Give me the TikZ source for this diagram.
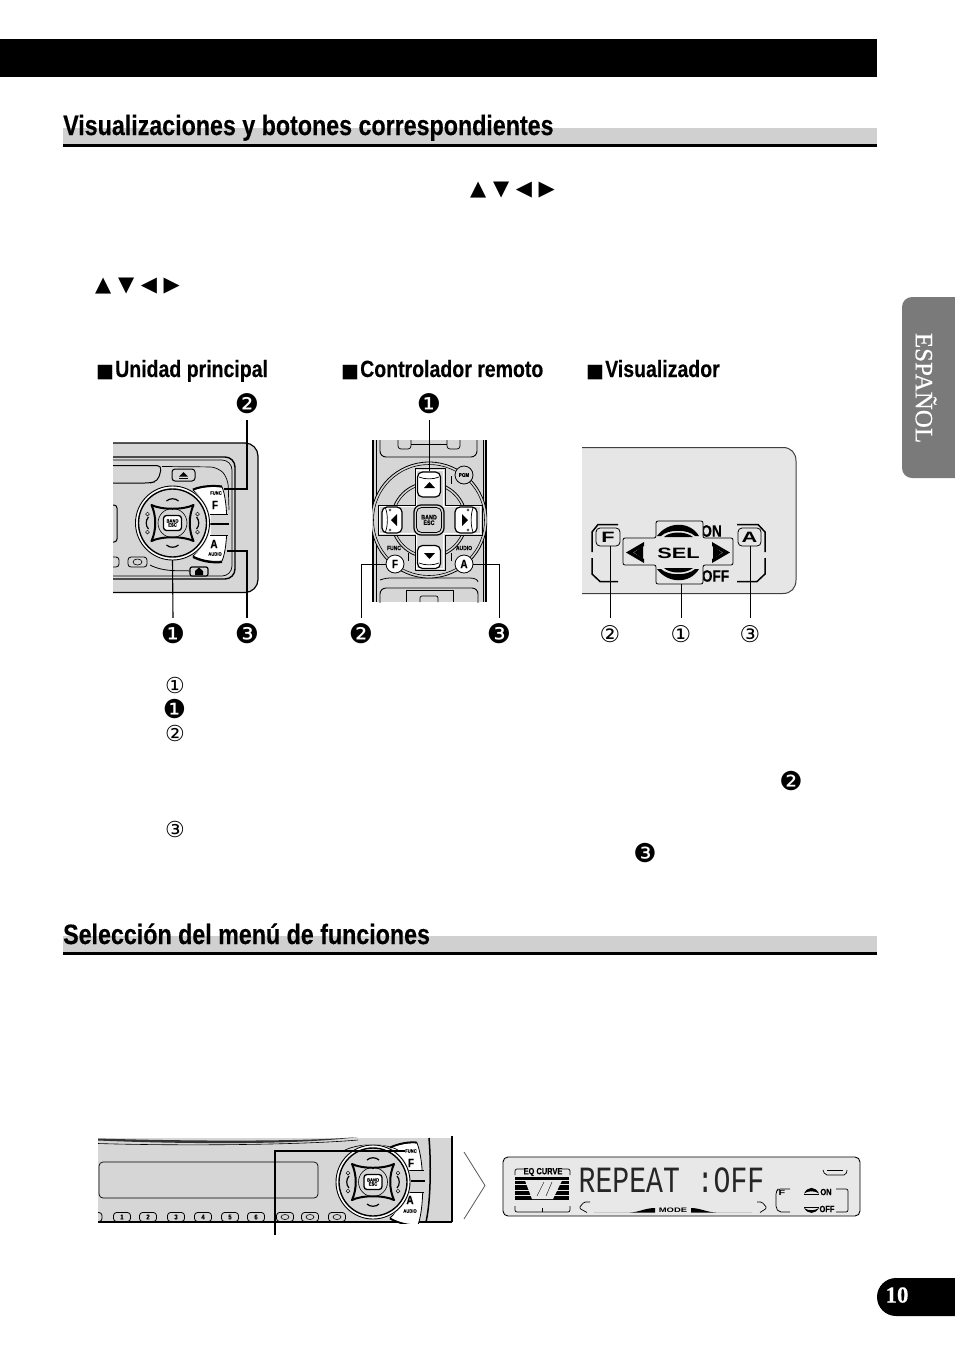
\documentclass[tikz,border=0pt]{standalone}
\usepackage{fontspec}
\setmainfont{Liberation Sans}
\newfontfamily\hfont[FakeStretch=0.83,BoldFeatures={FakeBold=0.3}]{Liberation Sans}
\newfontfamily\djv{DejaVu Sans}
\newfontfamily\serf[FakeBold=0.4]{Liberation Serif}
\newfontfamily\lcdf[FakeStretch=0.76]{Liberation Mono}
\newfontfamily\wide[FakeStretch=1.45]{Liberation Sans}
\definecolor{devgray}{HTML}{D6D6D6}
\definecolor{dispgray}{HTML}{E6E6E6}
\definecolor{lcdgray}{HTML}{E8E8E8}
\definecolor{bargray}{HTML}{D0D0D0}
\definecolor{tabgray}{HTML}{7A7A7A}
\newcommand{\fsz}[1]{\fontsize{#1}{#1}\selectfont}
\newcommand{\sqbox}{\makebox[19pt][l]{\djv\fsz{19}■}}
\tikzset{
  headtxt/.style={anchor=base west,inner sep=0pt,font=\hfont\bfseries\fsz{28}},
  subtxt/.style={anchor=base west,inner sep=0pt,font=\hfont\bfseries\fsz{23.5}},
  mark1/.style={inner sep=0pt,minimum size=32pt,font=\djv\fsz{23}},
  markf/.style={inner sep=0pt,minimum size=32pt,font=\djv\fsz{27}},
  markk/.style={inner sep=0pt,font=\djv\fsz{22}},
  markkf/.style={inner sep=0pt,font=\djv\fsz{26}},
  arrowtxt/.style={anchor=west,inner sep=0pt,font=\djv\fsz{21}},
  lead/.style={draw=black,line width=1.1pt},
  tiny/.style={inner sep=0pt,font=\hfont\bfseries\fsz{5}},
  pad/.style={draw=black,line width=.8pt,fill=devgray,rounded corners=3pt},
  rkey/.style={draw=black,line width=1.2pt,fill=white,rounded corners=5pt,inner sep=0pt},
  dial/.pic={
    \fill[devgray] (0,0) circle (38pt);
    \draw[black,line width=.9pt,fill=white] (0,0) circle (37pt);
    \draw[black,line width=1.4pt,fill=devgray] (0,0) circle (34pt);
    \draw[black,line width=2pt,line join=round,fill=devgray]
      (-21,-18) .. controls (-11,-13) and (11,-13) .. (21,-18)
      .. controls (16,-7) and (16,7) .. (21,18)
      .. controls (11,13) and (-11,13) .. (-21,18)
      .. controls (-16,7) and (-16,-7) .. (-21,-18) -- cycle;
    \draw[black,line width=.6pt] (0,0) circle (14.5pt);
    \draw[black,line width=1.2pt] (-6,-22) .. controls (-3,-25) and (3,-25) .. (6,-22);
    \draw[black,line width=1.2pt] (-6,22) .. controls (-3,25) and (3,25) .. (6,22);
    \draw[black,line width=1.2pt] (-24,-6) .. controls (-27,-3) and (-27,3) .. (-24,6);
    \draw[black,line width=1.2pt] (24,-6) .. controls (27,-3) and (27,3) .. (24,6);
    \foreach \cx in {-25,25}{\foreach \cy in {-9,9}{\draw[black,line width=.5pt] (\cx,\cy) circle (1.9pt);}}
    \node[draw=black,line width=1.3pt,fill=white,rounded corners=3pt,minimum width=18pt,minimum height=15pt,inner sep=0pt,
       align=center,font=\hfont\bfseries\fsz{5}] (band) at (0,0) {BAND\\[-1pt]ESC};
  }
}
\begin{document}
\begin{tikzpicture}[x=1pt,y=-1pt]
\useasboundingbox (0,0) rectangle (954,1355);
\fill[white] (0,0) rectangle (954,1355);

% top band
\fill[black] (0,39) rectangle (877,77);

% section headings
\fill[bargray] (63,128) rectangle (877,144);
\fill[black] (63,144) rectangle (877,146.5);
\node[headtxt] (h1) at (63,135) {Visualizaciones y botones correspondientes};
\fill[bargray] (63,936) rectangle (877,952);
\fill[black] (63,952) rectangle (877,954.5);
\node[headtxt] (h2) at (63,944) {Selección del menú de funciones};

% arrow glyphs in the text
\node[arrowtxt] (ar1) at (470,190.5) {▲ ▼ ◀ ▶};
\node[arrowtxt] (ar2) at (95,286.5) {▲ ▼ ◀ ▶};

% sub headings
\node[subtxt] (s1) at (96,377) {\sqbox Unidad principal};
\node[subtxt] (s2) at (341,377) {\sqbox Controlador remoto};
\node[subtxt] (s3) at (586,377) {\sqbox Visualizador};

% side tab
\path[fill=tabgray,rounded corners=10pt] (902,297) -- (970,297) -- (970,478) -- (902,478) -- cycle;
\node[rotate=-90,inner sep=0pt,text=white,font=\serf\fsz{25}] (tab) at (926,388) {ESPAÑOL};

% page number
\path[fill=black,rounded corners=19pt] (877,1278) -- (980,1278) -- (980,1316) -- (877,1316) -- cycle;
\node[text=white,inner sep=0pt,font=\serf\bfseries\fsz{23}] (pg) at (897,1295) {10};

% ---------- main unit ----------
\begin{scope}
\clip (113,438) rectangle (262,598);
\path[fill=devgray,draw=black,line width=1.2pt,rounded corners=13pt] (90,443) -- (258,443) -- (258,592.5) -- (90,592.5) -- cycle;
\draw[line width=1.4pt,rounded corners=10pt] (90,457) -- (235,457) -- (235,579) -- (90,579);
\draw[line width=.7pt,rounded corners=10pt] (90,460) -- (232,460) -- (232,576) -- (90,576);
\draw[line width=1pt,rounded corners=5pt] (90,465.5) -- (162,465.5) -- (158,481) -- (150,483) -- (90,483);
\draw[line width=.7pt,rounded corners=8pt] (162,466.5) -- (218,467) -- (228,478) -- (229,510);
\node[draw=black,line width=1pt,fill=devgray,rounded corners=3pt,minimum width=23pt,minimum height=12pt,inner sep=0pt] (ej1) at (183.5,475) {};
\fill[black] (179,476.5) -- (188,476.5) -- (183.5,472) -- cycle;
\fill[black] (179,478) rectangle (188,479);
\draw[line width=1pt,rounded corners=3pt] (90,505) -- (117,505) -- (117,542) -- (90,542);
\node[pad,minimum width=19pt,minimum height=10pt,inner sep=0pt] (b1a) at (137.5,562) {};
\draw[line width=.6pt] (137.5,562) ellipse (4.5pt and 3pt);
\node[pad,minimum width=10pt,minimum height=10pt,inner sep=0pt] (b1b) at (114,562) {};
\draw[line width=.8pt] (150,565) .. controls (165,573) and (185,570) .. (190,571);
\node[draw=black,line width=1.2pt,fill=devgray,rounded corners=2pt,minimum width=18pt,minimum height=9pt,inner sep=0pt] (ej2) at (199,571.5) {};
\fill[black] (195,575) -- (203,575) -- (203,571) -- (199,567.5) -- (195,571) -- cycle;
% F / A keys
\path[fill=white,draw=black,line width=.8pt] (193,490) .. controls (203,486) and (214,486) .. (222,487)
  .. controls (228,500) and (229,545) .. (222,561) .. controls (214,562) and (203,561) .. (193,556)
  .. controls (212,540) and (212,506) .. (193,490) -- cycle;
\draw[line width=2pt] (193,489.5) .. controls (203,485.5) and (214,485.5) .. (222,486.5);
\draw[line width=2pt] (193,557) .. controls (203,562) and (214,563) .. (222,562);
\draw[line width=.8pt] (210,514) -- (228,514);
\draw[line width=.8pt] (210,535) -- (228,535);
\fill[devgray] (211,514.5) rectangle (227.5,523);
\fill[devgray] (211,525) rectangle (227.5,534.5);
\draw[line width=1.6pt] (210,524) -- (229,524);
\node[tiny] (ftxt) at (216,493) {FUNC};
\node[inner sep=0pt,font=\hfont\bfseries\fsz{12}] (fk) at (215,505) {F};
\node[inner sep=0pt,font=\hfont\bfseries\fsz{12}] (ak) at (214,544) {A};
\node[tiny] (atxt) at (215,554) {AUDIO};
\pic (d1) at (172.5,523) {dial};
\end{scope}
\node[markf] (u2) at (247,404) {❷};
\node[markf] (u1) at (173,634) {❶};
\node[markf] (u3) at (247,634) {❸};
\coordinate (u2end) at (224,489);
\coordinate (u3end) at (227,551);
\coordinate (u1end) at (172.5,560);
\draw[lead] (u2.south) |- (u2end);
\draw[lead] (u3.north) |- (u3end);
\draw[lead] (u1.north) -- (u1end);

% ---------- remote ----------
\begin{scope}
\clip (372,440) rectangle (487,602);
\fill[devgray] (372,440) rectangle (487,602);
\draw[line width=1.6pt] (373,440) -- (373,602);
\draw[line width=.6pt] (376,440) -- (376,602);
\draw[line width=1.6pt] (486,440) -- (486,602);
\draw[line width=.6pt] (483,440) -- (483,602);
\path[fill=devgray,draw=black,line width=.9pt,rounded corners=6pt] (380,430) -- (380,457) -- (477,457) -- (477,430);
\draw[line width=.7pt,rounded corners=3pt] (398,440) -- (398,449) -- (411,449) -- (411,440);
\draw[line width=.7pt,rounded corners=3pt] (447,440) -- (447,449) -- (460,449) -- (460,440);
\draw[line width=.7pt] (411,444) -- (447,444);
\draw[line width=.8pt] (380,580) .. controls (380,580) and (385,578) .. (390,578) -- (470,578) .. controls (475,578) and (478,580) .. (478,582);
\path[draw=black,line width=.9pt,rounded corners=6pt] (380,610) -- (380,588) -- (478,588) -- (478,610);
\draw[line width=.7pt] (406,602) -- (406,590) -- (453,590) -- (453,602);
\draw[line width=.7pt,rounded corners=2pt] (420,602) -- (420,596) -- (438,596) -- (438,602);
\draw[line width=.8pt,fill=devgray] (429,520) circle (58pt);
\draw[line width=.6pt] (429,520) circle (55.5pt);
\draw[line width=.8pt] (429,520) circle (38pt);
\draw[line width=.6pt] (429,520) circle (35.5pt);
\path[fill=devgray,draw=black,line width=.9pt,line join=round]
 (415,468.5) -- (445,468.5) -- (445,505) -- (482,505) -- (482,535) -- (445,535) -- (445,570) -- (415,570) -- (415,535) -- (378,535) -- (378,505) -- (415,505) -- cycle;
\path[draw=white,line width=1pt]
 (416.5,470) -- (443.5,470) -- (443.5,506.5) -- (480.5,506.5) -- (480.5,533.5) -- (443.5,533.5) -- (443.5,568.5) -- (416.5,568.5) -- (416.5,533.5) -- (379.5,533.5) -- (379.5,506.5) -- (416.5,506.5) -- cycle;
\node[rkey,minimum width=23pt,minimum height=25pt] (kup) at (429,484.5) {};
\fill[black] (424,488) -- (435,488) -- (429.5,482) -- cycle;
\draw[line width=.7pt] (419,477) .. controls (425,479.5) and (433,479.5) .. (439,477);
\node[rkey,minimum width=23pt,minimum height=23pt] (kdn) at (429,557) {};
\fill[black] (424,553) -- (435,553) -- (429.5,559) -- cycle;
\draw[line width=.7pt] (419,563) .. controls (425,565.5) and (433,565.5) .. (439,563);
\node[rkey,minimum width=20pt,minimum height=26pt] (klf) at (392,520) {};
\fill[black] (397,514) -- (397,526) -- (391,520) -- cycle;
\draw[line width=.7pt] (385.5,508) .. controls (388,515) and (388,525) .. (385.5,532);
\draw[line width=.4pt] (390,510) circle (1.2pt) (390,530) circle (1.2pt);
\node[rkey,minimum width=22pt,minimum height=26pt] (krt) at (466,520) {};
\fill[black] (462,514) -- (462,526) -- (468,520) -- cycle;
\draw[line width=.7pt] (473,508) .. controls (470.5,515) and (470.5,525) .. (473,532);
\draw[line width=.4pt] (468,510) circle (1.2pt) (468,530) circle (1.2pt);
\node[draw=black,line width=1.2pt,fill=devgray,rounded corners=7pt,minimum size=30pt,inner sep=0pt] (bandout) at (429,520) {};
\node[draw=black,line width=.8pt,fill=devgray,rounded corners=5pt,minimum size=25pt,inner sep=0pt,align=center,font=\hfont\bfseries\fsz{6.5}] (bandrm) at (429,520) {BAND\\[-1pt]ESC};
\node[draw=black,line width=.8pt,fill=devgray,circle,minimum size=18pt,inner sep=0pt,font=\hfont\bfseries\fsz{5.5}] (pgm) at (464,475) {PGM};
\node[draw=black,line width=.8pt,fill=white,circle,minimum size=18pt,inner sep=0pt,font=\hfont\bfseries\fsz{12}] (rf) at (395,564) {F};
\node[draw=black,line width=.8pt,fill=white,circle,minimum size=18pt,inner sep=0pt,font=\hfont\bfseries\fsz{12}] (ra) at (464,564) {A};
\node[tiny,font=\hfont\bfseries\fsz{6}] (rfunc) at (394,548) {FUNC};
\node[tiny,font=\hfont\bfseries\fsz{6}] (raudio) at (464,548) {AUDIO};
\draw[line width=1pt] (408,553) -- (408,561);
\draw[line width=1pt] (451,553) -- (451,561);
\draw[line width=1pt] (451,476) -- (451,484);
\end{scope}
\node[markf] (r1) at (429,404) {❶};
\node[markf] (r2) at (361,634) {❷};
\node[markf] (r3) at (499,634) {❸};
\draw[lead,line width=.8pt] (r1.south) -- (kup.north);
\draw[lead,line width=.8pt] (r2.north) |- (rf.west);
\draw[lead,line width=.8pt] (r3.north) |- (ra.east);

% ---------- display panel ----------
\path[fill=dispgray] (582,447.5) -- (783,447.5) .. controls (791,447.5) and (796,453) .. (796,461)
  -- (796,580) .. controls (796,588) and (791,593.5) .. (783,593.5) -- (582,593.5) -- cycle;
\draw[line width=1pt,draw=black!75] (582,447.5) -- (783,447.5) .. controls (791,447.5) and (796,453) .. (796,461)
  -- (796,580) .. controls (796,588) and (791,593.5) .. (783,593.5) -- (582,593.5);
\draw[line width=1.5pt] (618,524.5) -- (598,524.5) -- (592,532) -- (592,552);
\draw[line width=1.5pt] (592,558) -- (592,574) -- (600,581.5) -- (618,581.5);
\draw[line width=1.5pt] (737,524.5) -- (758,524.5) -- (765,532) -- (765,552);
\draw[line width=1.5pt] (765,558) -- (765,574) -- (757,581.5) -- (737,581.5);
\node[inner sep=0pt,font=\hfont\bfseries\fsz{16.5}] (don) at (711.5,531) {ON};
\node[inner sep=0pt,font=\hfont\bfseries\fsz{16.5}] (doff) at (715.5,576) {OFF};
\path[fill=dispgray,draw=black,line width=.8pt,rounded corners=2pt]
 (656,521) -- (703,521) -- (703,538) -- (733,538) -- (733,565) -- (703,565) -- (703,584) -- (656,584) -- (656,565) -- (623,565) -- (623,538) -- (656,538) -- cycle;
\node[inner sep=0pt,font=\wide\bfseries\fsz{15}] (sel) at (678.5,553) {SEL};
\fill[black] (657,536) .. controls (668,521) and (690,521) .. (699,536) -- (695,536) .. controls (688,529) and (668,529) .. (661,536) -- cycle;
\fill[black] (664,537) .. controls (670,531) and (686,531) .. (693,537) -- cycle;
\fill[black] (657,569) .. controls (668,584) and (690,584) .. (699,569) -- (695,569) .. controls (688,576) and (668,576) .. (661,569) -- cycle;
\fill[black] (664,568) .. controls (670,574) and (686,574) .. (693,568) -- cycle;
\path[fill=black,even odd rule] (644,542) -- (626,552.5) -- (644,563) -- (644,559) -- (633,552.5) -- (644,546) -- cycle;
\fill[black] (643,546) -- (643,559) -- (634,552.5) -- cycle;
\path[fill=black] (712,542) -- (730,552.5) -- (712,563) -- (712,559) -- (723,552.5) -- (712,546) -- cycle;
\fill[black] (713,546) -- (713,559) -- (722,552.5) -- cycle;
\node[draw=black,line width=.8pt,fill=dispgray,rounded corners=4pt,minimum width=24pt,minimum height=18pt,inner sep=0pt,font=\wide\bfseries\fsz{15}] (df) at (608,537) {F};
\node[draw=black,line width=.8pt,fill=dispgray,rounded corners=4pt,minimum width=23pt,minimum height=18pt,inner sep=0pt,font=\wide\bfseries\fsz{15}] (da) at (749.5,537) {A};
\node[mark1] (d2) at (610,634) {②};
\node[mark1] (d1) at (681,634) {①};
\node[mark1] (d3) at (750,634) {③};
\coordinate (selb) at (681,584);
\draw[lead,line width=.8pt] (d2.north) -- (df.south -| d2.north);
\draw[lead,line width=.8pt] (d1.north) -- (selb);
\draw[lead,line width=.8pt] (d3.north) -- (da.south -| d3.north);

% loose reference marks
\node[markk] (k1) at (175,685) {①};
\node[markkf] (k2) at (174.5,709) {❶};
\node[markk] (k3) at (175,733) {②};
\node[markk] (k4) at (175,829) {③};
\node[markkf] (k5) at (791,781) {❷};
\node[markkf] (k6) at (645,853) {❸};

% ---------- lower device ----------
\begin{scope}
\clip (98,1136) rectangle (453,1223);
\fill[devgray] (98,1138) rectangle (452,1222);
\fill[white] (360,1136) -- (453,1136) -- (453,1138) -- (360,1138) -- cycle;
\draw[line width=2pt] (452,1136) -- (452,1222);
\draw[line width=1.4pt] (98,1222) -- (452,1222);
\path[fill=black!80] (98,1138.5) .. controls (180,1141) and (300,1142) .. (358,1137) .. controls (300,1145) and (180,1144) .. (98,1140.5) -- cycle;
\draw[line width=.6pt] (98,1143.5) .. controls (180,1146) and (300,1145) .. (358,1140);
\draw[line width=.7pt,rounded corners=4pt] (99,1162) rectangle (318,1198);
\foreach \bx/\bt in {122/1,148/2,176/3,203/4,230/5,256/6}{
  \node[pad,minimum width=17pt,minimum height=9pt,inner sep=0pt,font=\hfont\bfseries\fsz{7}] (lb\bt) at (\bx,1217) {\bt};
}
\node[pad,minimum width=10pt,minimum height=9pt,inner sep=0pt] (lb0) at (97,1217) {};
\foreach \bx/\bt in {285/a,310/b,337/c}{
  \node[pad,minimum width=17pt,minimum height=9pt,inner sep=0pt] (lb\bt) at (\bx,1217) {};
  \draw[line width=.6pt] (\bx,1217) ellipse (4pt and 2.5pt);
}
\path[fill=white,draw=black,line width=.8pt] (390,1148) .. controls (398,1144) and (410,1142) .. (417,1143)
  .. controls (424,1160) and (425,1205) .. (418,1225) .. controls (410,1227) and (398,1223) .. (390,1218)
  .. controls (410,1200) and (410,1165) .. (390,1148) -- cycle;
\draw[line width=1.8pt] (390,1147.5) .. controls (398,1143.5) and (410,1141.5) .. (417,1142.5);
\draw[line width=1.8pt] (390,1218.5) .. controls (398,1223) and (410,1226) .. (418,1225);
\draw[line width=.8pt] (406,1170) -- (424,1170);
\draw[line width=.8pt] (406,1192) -- (424,1192);
\fill[devgray] (407,1170.5) rectangle (423.5,1180);
\fill[devgray] (407,1182) rectangle (423.5,1191.5);
\draw[line width=1.6pt] (406,1181) -- (425,1181);
\draw[line width=1.5pt] (429,1138) .. controls (431,1160) and (431,1200) .. (426,1222);
\node[tiny] (lfunc) at (411,1151) {FUNC};
\node[inner sep=0pt,font=\hfont\bfseries\fsz{12}] (lf) at (411,1163) {F};
\node[inner sep=0pt,font=\hfont\bfseries\fsz{12}] (la) at (410,1200) {A};
\node[tiny] (laudio) at (410,1211) {AUDIO};
\draw[line width=.7pt] (345,1150) .. controls (360,1143) and (385,1143) .. (398,1150);
\pic (d2p) at (373,1182) {dial};
\end{scope}
\coordinate (lfree) at (275,1235);
\draw[lead,line width=1.4pt] (lfree) |- (lfunc.west);
\path[draw=black!65,line width=.8pt,line join=miter] (464,1152) -- (485,1185.5) -- (464,1219);

% ---------- LCD ----------
\node[draw=black,line width=.9pt,fill=lcdgray,rounded corners=5pt,minimum width=357pt,minimum height=59pt,inner sep=0pt] (lcd) at (681.5,1186.5) {};
\draw[line width=.7pt,rounded corners=2pt] (515,1175) -- (515,1169) -- (570,1169) -- (570,1175);
\draw[line width=.7pt,rounded corners=2pt] (515,1206) -- (515,1212) -- (570,1212) -- (570,1206);
\draw[line width=.5pt] (542,1208) -- (542,1212);
\fill[lcdgray] (526,1165) rectangle (562,1175);
\node[inner sep=0pt,font=\hfont\bfseries\fsz{9}] (eq) at (543,1172) {EQ CURVE};
\fill[black] (515,1177) rectangle (569,1200);
\draw[lcdgray,line width=.7pt] (515,1180) -- (569,1180) (515,1184) -- (569,1184) (515,1190) -- (569,1190) (515,1195) -- (569,1195);
\fill[lcdgray] (525,1180.5) -- (562,1180.5) -- (553,1199) -- (532,1199) -- cycle;
\draw[black,line width=.4pt] (537,1196) -- (544,1182) (546,1196) -- (552,1182);
\node[inner sep=0pt,text=black!85,font=\lcdf\fsz{37}] (rep) at (671.5,1180) {REPEAT :OFF};
\path[fill=black] (594,1212.5) -- (630,1212.5) .. controls (640,1212) and (645,1208) .. (655,1208) -- (655,1212.5) -- cycle;
\path[fill=black] (752,1212.5) -- (716,1212.5) .. controls (706,1212) and (700,1208) .. (691,1208) -- (691,1212.5) -- cycle;
\draw[line width=.7pt,rounded corners=1.5pt] (590,1202) -- (584,1202) -- (579,1208) -- (587,1212.5);
\draw[line width=.7pt,rounded corners=1.5pt] (757,1202) -- (762,1202) -- (767,1208) -- (760,1212.5);
\node[inner sep=0pt,font=\wide\bfseries\fsz{6.5}] (mode) at (673,1210) {MODE};
\draw[line width=.7pt,rounded corners=2pt] (790,1189) -- (778,1189) -- (776,1192) -- (776,1208) -- (779,1212) -- (790,1212);
\draw[line width=.7pt,rounded corners=2pt] (836,1189) -- (848,1189) -- (848,1212) -- (836,1212);
\node[inner sep=0pt,font=\wide\bfseries\fsz{7.5}] (lcdf) at (782,1193) {F};
\node[inner sep=0pt,font=\hfont\bfseries\fsz{9}] (lon) at (826,1192) {ON};
\node[inner sep=0pt,font=\hfont\bfseries\fsz{9}] (loff) at (827,1209) {OFF};
\path[fill=black] (804,1193.5) .. controls (808,1186) and (815,1186) .. (819,1193.5) .. controls (815,1190.5) and (808,1190.5) .. (804,1193.5) -- cycle;
\draw[line width=.5pt] (804,1194) -- (819,1194);
\path[fill=black] (804,1208) .. controls (808,1214.5) and (815,1214.5) .. (819,1208) .. controls (815,1211) and (808,1211) .. (804,1208) -- cycle;
\draw[line width=.5pt] (804,1207.5) -- (819,1207.5);
\draw[line width=.7pt,rounded corners=2pt] (823,1170) -- (825,1175) -- (846,1175) -- (847,1170);
\draw[line width=.7pt] (827,1170) -- (843,1170);
\end{tikzpicture}
\end{document}
